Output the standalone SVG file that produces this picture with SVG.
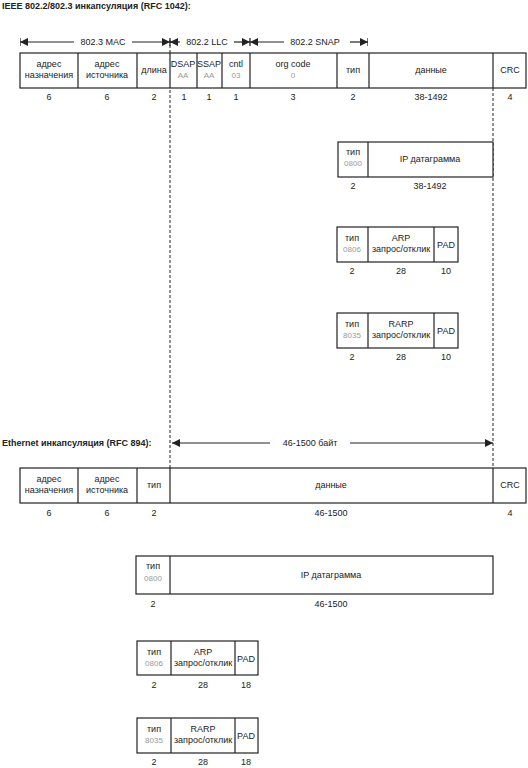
<svg xmlns="http://www.w3.org/2000/svg" width="528" height="768" viewBox="0 0 528 768">
<style>
text{font-family:"Liberation Sans",Arial,sans-serif;font-size:9px;fill:#222;text-anchor:middle}
.t{font-weight:bold;text-anchor:start;font-size:9px}
.g{fill:#999;font-size:8px}
.b{fill:#fff;stroke:#222;stroke-width:1.2}
.d{stroke:#222;stroke-width:1;stroke-dasharray:3,2;fill:none}
.a{stroke:#222;stroke-width:1.2;fill:none}
</style>
<defs>
<marker id="ar" viewBox="0 0 10 10" refX="10" refY="5" markerWidth="7" markerHeight="7" orient="auto-start-reverse"><path d="M0,0L10,5L0,10z" fill="#222"/><path d="M10,0V10" stroke="#222" stroke-width="1.5"/></marker>
<marker id="ah" viewBox="0 0 10 10" refX="10" refY="5" markerWidth="7" markerHeight="7" orient="auto-start-reverse"><path d="M0,0L10,5L0,10z" fill="#222"/></marker>
</defs>
<rect width="528" height="768" fill="#fff"/>
<text class="t" x="2" y="9">IEEE 802.2/802.3 инкапсуляция (RFC 1042):</text>
<text class="t" x="2" y="446">Ethernet инкапсуляция (RFC 894):</text>

<g id="connectors">
<line class="d" x1="170" y1="40" x2="170" y2="468"/>
<line class="d" x1="493" y1="88" x2="493" y2="468"/>
<line class="a" x1="20" y1="42" x2="74" y2="42" marker-start="url(#ar)"/>
<line class="a" x1="132" y1="42" x2="170" y2="42" marker-end="url(#ar)"/>
<line class="a" x1="170" y1="42" x2="180" y2="42" marker-start="url(#ar)"/>
<line class="a" x1="234" y1="42" x2="250" y2="42" marker-end="url(#ar)"/>
<line class="a" x1="250" y1="42" x2="284" y2="42" marker-start="url(#ar)"/>
<line class="a" x1="350" y1="42" x2="368" y2="42" marker-end="url(#ar)"/>
<line class="a" x1="172" y1="443" x2="270" y2="443" marker-start="url(#ah)"/>
<line class="a" x1="350" y1="443" x2="493" y2="443" marker-end="url(#ah)"/>
<text x="103" y="45">802.3 MAC</text>
<text x="207" y="45">802.2 LLC</text>
<text x="315" y="45">802.2 SNAP</text>
<text x="310" y="446">46-1500 байт</text>
</g>

<g id="frame8023">
<rect class="b" x="20" y="53" width="506" height="35"/>
<path class="a" d="M78,53V88M137,53V88M170,53V88M197,53V88M222,53V88M250,53V88M337,53V88M369,53V88M493,53V88"/>
<text x="49" y="67">адрес</text><text x="49" y="78">назначения</text>
<text x="107" y="67">адрес</text><text x="107" y="78">источника</text>
<text x="154" y="73">длина</text>
<text x="183" y="67">DSAP</text><text class="g" x="183" y="78">AA</text>
<text x="209" y="67">SSAP</text><text class="g" x="209" y="78">AA</text>
<text x="236" y="67">cntl</text><text class="g" x="236" y="78">03</text>
<text x="293" y="67">org code</text><text class="g" x="293" y="78">0</text>
<text x="353" y="73">тип</text>
<text x="431" y="73">данные</text>
<text x="510" y="73">CRC</text>
<text x="49" y="100">6</text><text x="107" y="100">6</text><text x="154" y="100">2</text>
<text x="184" y="100">1</text><text x="209" y="100">1</text><text x="236" y="100">1</text>
<text x="293" y="100">3</text><text x="353" y="100">2</text><text x="431" y="100">38-1492</text><text x="510" y="100">4</text>
</g>

<g id="ip8023">
<rect class="b" x="338" y="142" width="155" height="35"/>
<line class="a" x1="368" y1="142" x2="368" y2="177"/>
<text x="353" y="155">тип</text><text class="g" x="353" y="166">0800</text>
<text x="430" y="162">IP датаграмма</text>
<text x="353" y="189">2</text><text x="430" y="189">38-1492</text>
</g>

<g id="arp8023">
<rect class="b" x="337" y="227" width="121" height="35"/>
<path class="a" d="M368,227V262M434,227V262"/>
<text x="352" y="241">тип</text><text class="g" x="352" y="252">0806</text>
<text x="401" y="241">ARP</text><text x="401" y="252">запрос/отклик</text>
<text x="446" y="248">PAD</text>
<text x="352" y="274">2</text><text x="401" y="274">28</text><text x="446" y="274">10</text>
</g>

<g id="rarp8023">
<rect class="b" x="337" y="313" width="121" height="35"/>
<path class="a" d="M368,313V348M434,313V348"/>
<text x="352" y="327">тип</text><text class="g" x="352" y="338">8035</text>
<text x="401" y="327">RARP</text><text x="401" y="338">запрос/отклик</text>
<text x="446" y="334">PAD</text>
<text x="352" y="360">2</text><text x="401" y="360">28</text><text x="446" y="360">10</text>
</g>

<g id="frameEth">
<rect class="b" x="20" y="468" width="506" height="35"/>
<path class="a" d="M78,468V503M137,468V503M170,468V503M493,468V503"/>
<text x="49" y="482">адрес</text><text x="49" y="493">назначения</text>
<text x="107" y="482">адрес</text><text x="107" y="493">источника</text>
<text x="154" y="488">тип</text>
<text x="331" y="488">данные</text>
<text x="510" y="488">CRC</text>
<text x="49" y="516">6</text><text x="107" y="516">6</text><text x="154" y="516">2</text>
<text x="331" y="516">46-1500</text><text x="510" y="516">4</text>
</g>

<g id="ipEth">
<rect class="b" x="136" y="556" width="357" height="38"/>
<line class="a" x1="170" y1="556" x2="170" y2="594"/>
<text x="153" y="569">тип</text><text class="g" x="153" y="581">0800</text>
<text x="331" y="578">IP датаграмма</text>
<text x="153" y="607">2</text><text x="331" y="607">46-1500</text>
</g>

<g id="arpEth">
<rect class="b" x="137" y="641" width="121" height="34"/>
<path class="a" d="M171,641V675M235,641V675"/>
<text x="154" y="655">тип</text><text class="g" x="154" y="666">0806</text>
<text x="203" y="655">ARP</text><text x="203" y="666">запрос/отклик</text>
<text x="246" y="662">PAD</text>
<text x="154" y="688">2</text><text x="203" y="688">28</text><text x="246" y="688">18</text>
</g>

<g id="rarpEth">
<rect class="b" x="137" y="718" width="121" height="35"/>
<path class="a" d="M171,718V753M235,718V753"/>
<text x="154" y="732">тип</text><text class="g" x="154" y="743">8035</text>
<text x="203" y="732">RARP</text><text x="203" y="743">запрос/отклик</text>
<text x="246" y="739">PAD</text>
<text x="154" y="765">2</text><text x="203" y="765">28</text><text x="246" y="765">18</text>
</g>
</svg>
